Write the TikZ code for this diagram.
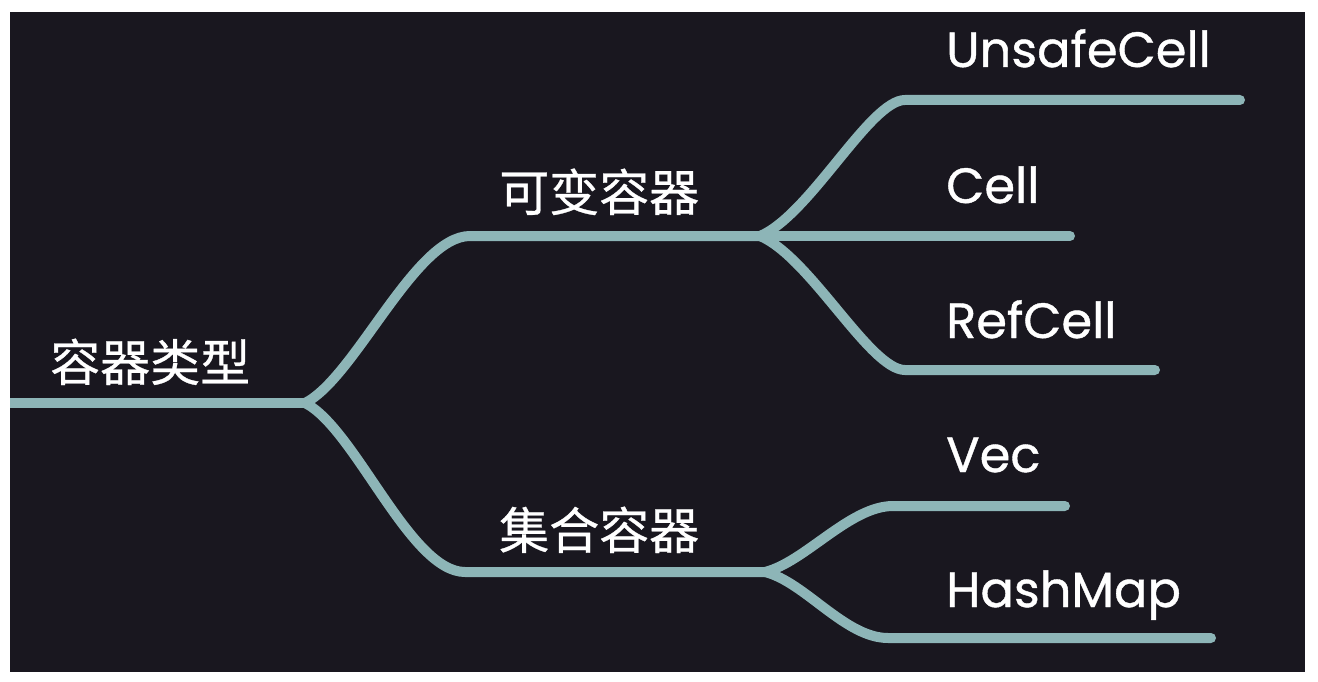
\documentclass[tikz,border=0pt]{standalone}
\usepackage{fontspec}
\setmainfont{Poppins}
\newfontfamily\leaffont{Poppins}[FakeBold=0.8]
\newfontfamily\cjk{Noto Sans CJK SC}[FakeBold=0.6]
\usepackage{xcolor}
\usetikzlibrary{positioning}
\definecolor{bgdark}{HTML}{19171F}
\definecolor{linkcol}{HTML}{8DB5B7}

\begin{document}
\begin{tikzpicture}[
      x=1pt, y=-1pt,
      link/.style={draw=linkcol, line width=10pt, line cap=round},
      topic/.style={text=white, anchor=base west, inner sep=0pt, font=\cjk\fontsize{50}{58}\selectfont},
      leaf/.style={text=white, anchor=base west, inner sep=0pt, font=\leaffont\fontsize{49.5}{58}\selectfont}
    ]
    \fill[white] (0,0) rectangle (1318,682);
    \fill[bgdark] (10,12) rectangle (1305,672);

    % points on the lines
    \coordinate (start) at (10,403);
    \coordinate (root) at (305,403);
    \coordinate (mutL) at (470,236);
    \coordinate (mutJ) at (760,236);
    \coordinate (colL) at (465,572);
    \coordinate (colJ) at (765,572);
    \coordinate (unsafeL) at (905,100);
    \coordinate (unsafeR) at (1240,100);
    \coordinate (cellR) at (1070,236);
    \coordinate (refL) at (905,370);
    \coordinate (refR) at (1155,370);
    \coordinate (vecL) at (893,506);
    \coordinate (vecR) at (1065,506);
    \coordinate (hashL) at (888,638);
    \coordinate (hashR) at (1211,638);

    % labels
    \node[topic] (types) at (50,381) {容器类型};
    \node[topic] (mutable) at (499,211) {可变容器};
    \node[topic] (collect) at (499,549) {集合容器};
    \node[leaf] (unsafe) at (946,67) {UnsafeCell};
    \node[leaf] (cell) at (946,203) {Cell};
    \node[leaf] (refcell) at (946,338) {RefCell};
    \node[leaf] (vec) at (946,472) {Vec};
    \node[leaf] (hashmap) at (946,607) {HashMap};

    \draw[link, line cap=butt] (start) -- (root);
    \draw[link] (root) .. controls (355,378) and (415,236) .. (mutL) -- (mutJ);
    \draw[link] (root) .. controls (355,428) and (410,572) .. (colL) -- (colJ);
    \draw[link] (mutJ) .. controls (810,215) and (870,100) .. (unsafeL) -- (unsafeR);
    \draw[link] (mutJ) -- (cellR);
    \draw[link] (mutJ) .. controls (810,257) and (870,370) .. (refL) -- (refR);
    \draw[link] (colJ) .. controls (805,562) and (850,506) .. (vecL) -- (vecR);
    \draw[link] (colJ) .. controls (805,582) and (845,638) .. (hashL) -- (hashR);
  \end{tikzpicture}
\end{document}
